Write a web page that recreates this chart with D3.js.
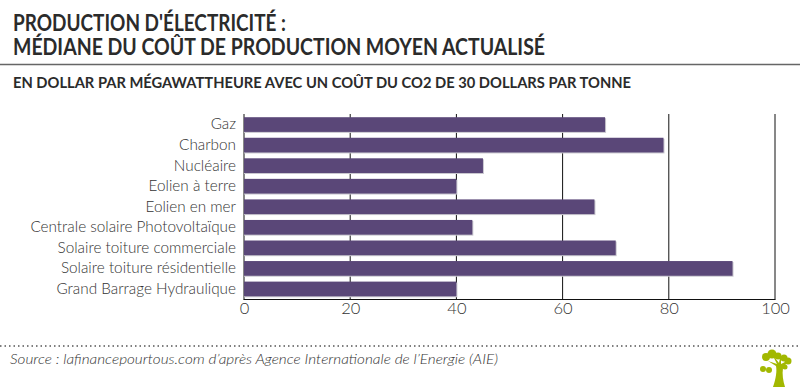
<!DOCTYPE html>
<html>

<head>
	<meta charset='utf-8'>
	<title>Production d'électricité</title>
	<script type='text/javascript' src='https://cdn.jsdelivr.net/npm/d3@7'></script>
	<style>
		body { margin: 0; background: #fff; }
		svg { display: block; }
		text { font-family: Lato, sans-serif; }
	</style>
</head>

<body>
	<svg width='800' height='387'></svg>
	<script>
		const categories = ['Gaz', 'Charbon', 'Nucléaire', 'Eolien à terre', 'Eolien en mer',
			'Centrale solaire Photovoltaïque', 'Solaire toiture commerciale',
			'Solaire toiture résidentielle', 'Grand Barrage Hydraulique']
		const values = [68, 79, 45, 40, 66, 43, 70, 92, 40]
		const ticks = [0, 20, 40, 60, 80, 100]

		const margin = ({ top: 114, right: 25, bottom: 87.5, left: 244 })
		const svg = d3.select('svg')
		const width = +svg.attr('width')
		const height = +svg.attr('height')

		const x = d3.scaleLinear().domain([0, 100]).range([margin.left, width - margin.right])
		const y = d3.scaleBand().domain(categories)
			.range([margin.top, height - margin.bottom]).paddingInner(0.285).paddingOuter(0.156)

		// titres
		const dark = '#2b2b2b'
		svg.append('text').attr('x', 13).attr('y', 30.5).attr('fill', dark)
			.attr('font-size', 22).attr('font-weight', 700)
			.attr('textLength', 273).attr('lengthAdjust', 'spacingAndGlyphs')
			.text("PRODUCTION D'ÉLECTRICITÉ :")
		svg.append('text').attr('x', 13).attr('y', 55).attr('fill', dark)
			.attr('font-size', 22).attr('font-weight', 700)
			.attr('textLength', 532).attr('lengthAdjust', 'spacingAndGlyphs')
			.text('MÉDIANE DU COÛT DE PRODUCTION MOYEN ACTUALISÉ')
		svg.append('line').attr('x1', 0).attr('x2', width).attr('y1', 64.5).attr('y2', 64.5)
			.attr('stroke', '#666').attr('stroke-width', 1.5)
		svg.append('text').attr('x', 13).attr('y', 88).attr('fill', dark)
			.attr('font-size', 15.5).attr('font-weight', 700)
			.attr('textLength', 618).attr('lengthAdjust', 'spacingAndGlyphs')
			.text('EN DOLLAR PAR MÉGAWATTHEURE AVEC UN COÛT DU CO2 DE 30 DOLLARS PAR TONNE')

		// quadrillage
		const grid = svg.append('g')
		grid.selectAll('line').data(ticks).join('line')
			.attr('x1', d => x(d)).attr('x2', d => x(d))
			.attr('y1', margin.top).attr('y2', height - margin.bottom)
			.attr('stroke', '#111').attr('stroke-width', 1)

		// ombre grise sous les barres
		svg.append('g').selectAll('rect').data(values).join('rect')
			.attr('x', x(0))
			.attr('y', (d, i) => y(categories[i]) + 1)
			.attr('width', d => x(d) - x(0) + 1)
			.attr('height', y.bandwidth())
			.attr('fill', '#c9c7cf')

		// barres
		svg.append('g').selectAll('rect').data(values).join('rect')
			.attr('x', x(0))
			.attr('y', (d, i) => y(categories[i]))
			.attr('width', d => x(d) - x(0))
			.attr('height', y.bandwidth())
			.attr('fill', '#5a4778')

		// axes
		const yAxis = d3.axisLeft(y).tickSize(0).tickPadding(8)
		const gy = svg.append('g').attr('transform', `translate(${margin.left},0)`).call(yAxis)
		gy.select('.domain').remove()
		gy.selectAll('text').attr('font-size', 15.3).attr('font-weight', 300).attr('fill', '#333')

		const xAxis = d3.axisBottom(x).tickValues(ticks).tickSize(0).tickPadding(3)
		const gx = svg.append('g').attr('transform', `translate(0,${height - margin.bottom})`).call(xAxis)
		gx.select('.domain').remove()
		gx.selectAll('text').attr('font-size', 16.5).attr('font-weight', 300).attr('fill', '#333')
		svg.append('line').attr('x1', x(0) - 0.5).attr('x2', x(100) + 0.5)
			.attr('y1', height - margin.bottom).attr('y2', height - margin.bottom)
			.attr('stroke', '#111').attr('stroke-width', 1)

		// pied
		svg.append('line').attr('x1', 0).attr('x2', width).attr('y1', 346).attr('y2', 346)
			.attr('stroke', '#555').attr('stroke-width', 1.5).attr('stroke-dasharray', '1.5 3')
		svg.append('text').attr('x', 10).attr('y', 364).attr('fill', '#333')
			.attr('font-size', 14.5).attr('font-style', 'italic').attr('font-weight', 300)
			.attr('textLength', 488).attr('lengthAdjust', 'spacingAndGlyphs')
			.text("Source : lafinancepourtous.com d’après Agence Internationale de l’Energie (AIE)")

		// logo arbre
		const logo = svg.append('g').attr('fill', '#a2b800')
		logo.append('path').attr('d', 'M773 387 C776 378 777 371 776 366 L768 361 L777 364 L772 354 L779 363 L781 353 L781 364 L789 360 L783 368 C782 374 783 381 785 387 Z')
		const blobs = [[766, 357, 4], [772, 354, 4.5], [778, 356, 3.5], [784, 358, 3.5], [788, 361, 3.5], [785, 367, 2.5], [763, 369, 3], [769, 370, 3]]
		logo.selectAll('circle').data(blobs).join('circle')
			.attr('cx', d => d[0]).attr('cy', d => d[1]).attr('r', d => d[2])
	</script>
</body>

</html>
